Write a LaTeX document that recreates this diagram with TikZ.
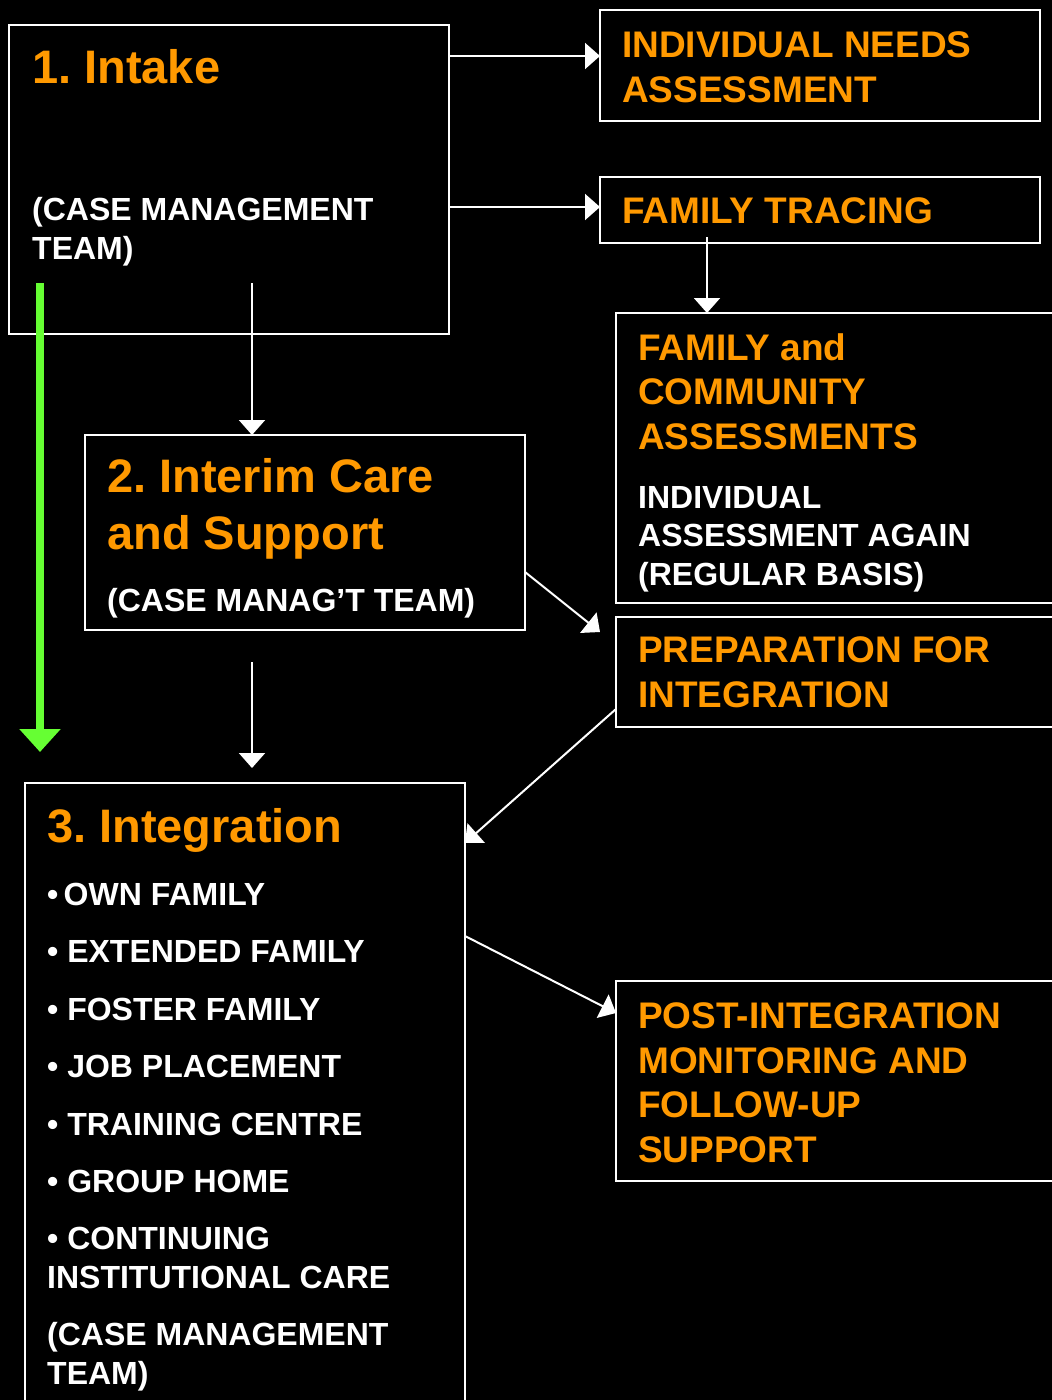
\documentclass[tikz,border=0pt]{standalone}
\usepackage{fontspec}
\setmainfont{Liberation Sans}
\usepackage{tikz}
\usetikzlibrary{arrows.meta}
\usetikzlibrary{positioning}
\definecolor{stageorange}{HTML}{FF9900}
\definecolor{stagegreen}{HTML}{66FF33}
\frenchspacing

\begin{document}
\begin{tikzpicture}[x=1pt, y=-1pt]
				\tikzstyle{stagebox}=[draw=white, line width=2pt, fill=none, inner sep=0pt, outer sep=0pt, anchor=north west]
				\tikzstyle{bighead}=[text=stageorange, anchor=base west, align=left, inner sep=0pt, font=\fontsize{47}{57}\selectfont\bfseries]
				\tikzstyle{subhead}=[text=stageorange, anchor=base west, align=left, inner sep=0pt, font=\fontsize{37}{44.5}\selectfont\bfseries]
				\tikzstyle{whitenote}=[text=white, anchor=base west, align=left, inner sep=0pt, font=\fontsize{32}{38.4}\selectfont\bfseries]
				\tikzstyle{flow}=[white, line width=2pt, -{Triangle[length=15pt, width=26pt]}]
				
				\useasboundingbox (0,0) rectangle (1052,1400);
				\clip (0,0) rectangle (1052,1400);
				\fill[black] (0,0) rectangle (1052,1400);
				
				% the three stages
				\node (intake) at (9,25) [stagebox, minimum width=440pt, minimum height=309pt] {};
				\node (interim) at (85,435) [stagebox, minimum width=440pt, minimum height=195pt] {};
				\node (integ) at (25,783) [stagebox, minimum width=440pt, minimum height=640pt] {};
				
				% side boxes
				\node (needs) at (600,10) [stagebox, minimum width=440pt, minimum height=111pt] {};
				\node (tracing) at (600,177) [stagebox, minimum width=440pt, minimum height=66pt] {};
				\node (community) at (616,313) [stagebox, minimum width=446pt, minimum height=290pt] {};
				\node (prep) at (616,617) [stagebox, minimum width=446pt, minimum height=110pt] {};
				\node (post) at (616,981) [stagebox, minimum width=446pt, minimum height=200pt] {};
				
				% texts (base = last line)
				\node (intakehead) at (32,83) [bighead] {1. Intake};
				\node (intakenote) at (32,259) [whitenote] {(CASE MANAGEMENT\\TEAM)};
				\node (interimhead) at (107,549) [bighead] {2. Interim Care\\and Support};
				\node (interimnote) at (107,611) [whitenote] {(CASE MANAG’T TEAM)};
				\node (integhead) at (47,842) [bighead] {3. Integration};
				\node (integlist) at (47,1384) [whitenote] {•\,OWN FAMILY\\[19pt]
					• EXTENDED FAMILY\\[19pt]
					• FOSTER FAMILY\\[19pt]
					• JOB PLACEMENT\\[19pt]
					• TRAINING CENTRE\\[19pt]
					• GROUP HOME\\[19pt]
					• CONTINUING\\INSTITUTIONAL CARE\\[19pt]
					(CASE MANAGEMENT\\TEAM)};
				
				\node (needstext) at (622,102) [subhead] {INDIVIDUAL NEEDS\\ASSESSMENT};
				\node (tracingtext) at (622,223) [subhead] {FAMILY TRACING};
				\node (communityhead) at (638,449) [subhead] {FAMILY and\\COMMUNITY\\ASSESSMENTS};
				\node (communitynote) at (638,585) [whitenote] {INDIVIDUAL\\ASSESSMENT AGAIN\\(REGULAR BASIS)};
				\node (preptext) at (638,707) [subhead] {PREPARATION FOR\\INTEGRATION};
				\node (posttext) at (638,1162) [subhead] {POST-INTEGRATION\\MONITORING AND\\FOLLOW-UP\\SUPPORT};
				
				% connectors
				\draw [flow] ([yshift=9.5pt]intake.east |- needs.west) -- ([yshift=9.5pt]needs.west);
				\draw [flow] ([yshift=3pt]intake.east |- tracing.west) -- ([yshift=3pt]tracing.west);
				\draw [flow] ([xshift=107pt, yshift=6pt]tracing.south west) -- ([xshift=91pt]community.north west);
				\draw [flow] ([xshift=243pt, yshift=51pt]intake.south west) -- ([xshift=167pt]interim.north west);
				\draw [flow] ([xshift=167pt, yshift=-32pt]interim.south west) -- ([xshift=227pt, yshift=15pt]integ.north west);
				\draw [flow] ([yshift=-39.5pt]interim.east) -- ([xshift=-16pt, yshift=-15pt]prep.north west);
				\draw [flow] ([yshift=-37pt]prep.west) -- ([yshift=-60pt]integ.north east);
				\draw [flow] ([yshift=-153pt]integ.north east) -- ([yshift=-32pt]post.north west);
				\draw [stagegreen, line width=8pt, -{Triangle[length=23pt, width=40pt]}] ([xshift=31pt, yshift=51pt]intake.south west) -- ([xshift=15pt, yshift=31pt]integ.north west);
\end{tikzpicture}
\end{document}
